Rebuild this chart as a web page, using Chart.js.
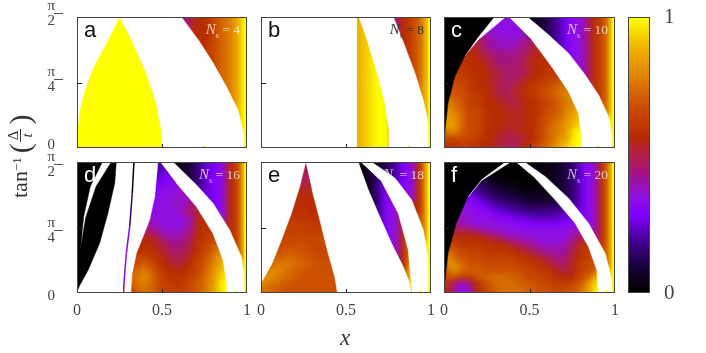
<!DOCTYPE html>
<html>
<head>
<meta charset="utf-8">
<script src="https://cdn.jsdelivr.net/npm/chart.js@4"></script>
<style>
html, body { margin: 0; padding: 0; background: #fff; overflow: hidden; }
#page { position: relative; width: 706px; height: 353px; }
canvas { position: absolute; left: 0; top: 0; }
.txt { position: absolute; white-space: nowrap; }
.letter { font: 22px "Liberation Sans", sans-serif; line-height: 22px; }
.ns { font: 13.5px "Liberation Serif", serif; line-height: 14px; text-align: right; }
.ns i { font-size: 15px; }
.ns sub { font-size: 8px; line-height: 0; }
#xTitle { left: 340px; top: 325px; font: italic 23px "Liberation Serif", serif; color: #333; }
#yTitle { left: 5px; top: 198px; height: 30px; display: flex; align-items: center; transform-origin: 0 0;
  transform: rotate(-90deg); font: 22px "Liberation Serif", serif; color: #333; }
#yTitle sup { font-size: 13px; line-height: 0; position: relative; top: -3px; }
#yTitle .paren { font-size: 30px; font-weight: 200; margin: 0 1px 0 4px; }
#yTitle .frac { display: inline-flex; flex-direction: column; align-items: center; font-size: 15px; line-height: 13px; }
#yTitle .frac b { font-weight: normal; border-bottom: 1px solid #333; padding: 0 2px; }
#yTitle .frac em { line-height: 13px; }
</style>
</head>
<body>
<div id="page"></div>
<script>
// cell levels, top row first: 0 (black) .. z (yellow), '.' = hidden under a white or black region
const gridA = [
"zzzzzzzzzzzzzzzzzz...ehjkklnpqrtvz",
"zzzzzzzzzzzzzzzzzz...fhjkklnpqrtvz",
"zzzzzzzzzzzzzzzzzz...hjkkklnpqrtvz",
"zzzzzzzzzzzzzzzzzz...hjkkklnpqrtvz",
"zzzzzzzzzzzzzzzzzz...hjkklmnpqrtvz",
"zzzzzzzzzzzzzzzzzz...hjkklmnpqrtvz",
"zzzzzzzzzzzzzzzzzz...hjkklmnpqrtvz",
"zzzzzzzzzzzzzzzzzz...hjkklmnpqrtvz",
"zzzzzzzzzzzzzzzzzz...hjkklmnpqrtvz",
"zzzzzzzzzzzzzzzzzz...hjkklmnpqrtvz",
"zzzzzzzzzzzzzzzzzz...hjkklmnpqrtvz",
"zzzzzzzzzzzzzzzzzz...hjkklmnpqrtvz",
"zzzzzzzzzzzzzzzzzz...hjkklmnpqrtvz",
"zzzzzzzzzzzzzzzzzz...hjkklmnpqruwz",
"zzzzzzzzzzzzzzzzzz...hjkklmnpqruwz",
"zzzzzzzzzzzzzzzzzz...hjkklmnpqruwz",
"zzzzzzzzzzzzzzzzzz...hjkklmnpqruwz",
"zzzzzzzzzzzzzzzzzz...hjkklmnpqruwz",
"zzzzzzzzzzzzzzzzzz...hjkklmnpqruwz",
"zzzzzzzzzzzzzzzzzz...hjkklmnpqruwz"
];
const gridB = [
"...................vwxyzzzehklnpsx",
"...................vwxyzzzehklnpsx",
"...................vwxyzzzehklnpsx",
"...................vwxyzzzehklnpsx",
"...................vwxyzzzehklnpsx",
"...................vwxyzzzehklnpsx",
"...................vwxyzzzehklnpsx",
"...................vwxyzzzehklnpsx",
"...................vwxyzzzehklnpsx",
"...................vwxyzzzehklnpsx",
"...................vwxyzzzehklnptx",
"...................vwxyzzzehklnptx",
"...................vwxyzzzehklnptx",
"...................vwxyzzzehklnptx",
"...................vwxyzzzehklnptx",
"...................vwxyzzzehklnptx",
"...................vwxyzzzehklnptx",
"...................vwxyzzzehklnptx",
"...................vwxyzzzehklnptx",
"...................vwxyzzzehklnptx"
];
const gridC = [
"...........ccc..01234578abcdfjlnqy",
".........cccccc..1234578abcdfjlnqy",
".......edddccccd..234578abcdfjlnqy",
"......hgfedddddefh..4578abcdfjlnqy",
".....jihfeedddefghj...78abcdfjlnqy",
"...kkkjihgfffffghijk....abcdfjlnqy",
"..kkkkkjihgfffggijkkk....bcdfjlnqy",
"..lllkkkjhhgggghijkkll....cdfjlnqy",
"..mmllkkkjihgggghjkkllm....dfjlnqy",
".nnmmlkkkiihgghikkklmmno....fjlnqy",
"oonnmllkkjihghijklmmnopq.....jlnqy",
"qpoonmllkjihhijkllmnopqrs.....lnqy",
"rqponmmlkkjiihijkllmnopqrs.....nqy",
"srqpnmmlkkkjjiijkklmnopqrsu.....qy",
"tsrqonnmlkkkjjjjkklmoopqstv.....qy",
"ttsqonnmlkkkjjjjkklnopqrtuw......y",
"tusqonnmlkkkjjjjkklnoqrstvx......y",
"qsrponnmkkjjiijjkkmnpqrsuxz......y",
"nmnnnmmlkkjiihhijklnpqstuxz......y",
"lllmmllkkjiihhhjklnoqrtvwyz......y"
];
const gridD = [
"...............77...1235689abdjlox",
"...............889...235689abdjlox",
"...............99aa...35689abdjlox",
"...............aabbcc..5689abdjlox",
"...............bbcccdd...89abdjlox",
"...............ccccddde...9abdjlox",
"...............ccccdddfh...abdjlox",
"..............dcccccdeghj...bdjlox",
"..............ddcccccdegjk...djlox",
".............feddccccdehkkl...jlox",
".............hgfeddddefikllm..jlox",
".............jjihfeeefgjklmn...lox",
"............kkkjihgffghjlmnop..lox",
"............kllkjihgghiklnoqr...ox",
"...........mnnmlkjihhijlmoprtu..ox",
"...........noponlkjiijkmnoqsuv...x",
"...........pqrqomlkkkklmnprtvx...x",
"...........qrsrpnmllllmnoqrtwy...x",
"...........prrqpnmmllmnopqsuxz...x",
"...........oqqqpnnmmmmnopqsuxz...x"
];
const gridE = [
"hhhhhhhhhhhhhhhh...01.123568abdkpy",
"hhhhhhhhhhhhhhhh...0124.3568abdkpy",
"iiiiiiiihhiiiiii...01246..68abdkpy",
"jjjjjjjjiiijjjjj...012469...abdkpy",
"kkkkkkkkjjkkkkkk...012469b...bdkpy",
"kkkkkkkkkkkkkkkk...012469bc...dkpy",
"kkkkkkkkkkkkkkkk...012469bce...kpy",
"lllllllllkkkkkkk...012469bce...kpy",
"llllllllllllllll...012469bcek...py",
"mmmmmmmmmmllllll...012469bcek...py",
"mmmmmmmmmmmmmmmm...012469bcek...py",
"nnnnnnnnnnnnnnmm...012469bcekp..py",
"nnnnnnnoonnnnnnn...012469bcekp...y",
"oooooppooonnnnnn...012469bcekp...y",
"oopppqqppoonnnnn...012469bcekpz..y",
"opqrrrqqppoooonn...012469bcekpz..y",
"qrssrqqppooooooo...012469bcektz..y",
"stsrqqppoooooooo...012469bcektz..y",
"srqqppoooooooooo...012469bcektz..y",
"qqppoooooooooooo...012469bcektz..y"
];
const gridF = [
"000000000000000..00111234579bcflpx",
"0000000000000000..0111234579bcflpx",
".......22110000000..11234579bcflpx",
"......65432211100000..234579bcflpx",
"....98765443322111111..34579bcflpx",
"...baa9876554433222223...579bcflpx",
"...ccbba9877665544444455..79bcflpx",
"..ddcccbba998877666666778..9bcflpx",
"..eddcccccbbaa99988888899a..bcflpx",
".gfeddcccccccbbbaaaaaaaabbc..cflpx",
"kihiihgfeeddcccccccccccccde...flpx",
"mlkkkkkkjihgfeedddccccccdegh..flpx",
"onmllllllkkkjihgfeedddddegikl..lpx",
"qponnmmmlllllkkjihgfeeeefhjlm...px",
"srpoonnnmmmmmmllkkjihgffgiklmn..px",
"rtrqpooonnnnnnnmmllkjihghjlmno..px",
"prsqppppooooooonnmmllkjiijlmnor..x",
"nonmmmoppqqqqpponnnmmlkkjkmnprw..x",
"lifdehkmopqqqqqppoonnmmmmnopsvy..x",
"khdccejlnopqqqqqppooonnnooprtwz..x"
];

// region outlines, as [x, y] with y in units of pi/2
const whiteA = [
  [[0,1],[.25,1],[.173,.8],[.094,.61],[.045,.44],[.016,.29],[0,.11]],
  [[.25,1],[.614,1],[.722,.81],[.8,.65],[.878,.47],[.947,.29],[.986,.08],[1,0],[.506,0],[.496,.135],[.467,.34],[.408,.57],[.33,.8]]
];
const whiteB = [
  [[0,0],[0,1],[.562,1],[.562,0]],
  [[.575,1],[.778,1],[.837,.81],[.906,.57],[.955,.365],[.984,.19],[.994,0],[.754,0],[.754,.135],[.729,.34],[.69,.545],[.63,.8]]
];
const whiteC = [
  [[.293,1],[.36,1],[.2,.826],[.121,.703],[.2,.85]],
  [[.38,1],[.489,1],[.611,.864],[.728,.724],[.826,.558],[.904,.404],[.963,.238],[.988,.059],[.992,0],[.802,0],[.802,.11],[.787,.263],[.728,.43],[.63,.621],[.513,.826]]
];
const blackC = [
  [[0,1],[.293,1],[.2,.85],[.121,.703],[.063,.545],[.023,.34],[.004,.11],[0,.05]]
];
const whiteD = [
  [[0,0],[0,1],[.476,1],[.457,.737],[.427,.558],[.388,.43],[.349,.302],[.324,.148],[.316,0]],
  [[.49,1],[.565,1],[.702,.826],[.8,.685],[.898,.481],[.967,.276],[.992,.07],[.998,0],[.882,0],[.882,.072],[.859,.251],[.8,.455],[.702,.66],[.584,.839]]
];
const blackD = [
  [[0,1],[.149,1],[.078,.813],[.039,.583],[.02,.332],[.051,.575],[.112,.813],[.202,1],[.231,1],[.222,.84],[.182,.61],[.133,.38],[.065,.174],[.016,.059],[0,.01]]
];
const lineD = [[.335,1],[.325,.76],[.31,.506],[.29,.3],[.276,.07],[.275,0]];
const lineDLevels = [.02,.15,.3,.36,.5,.55];
const whiteE = [
  [[0,.072],[0,1],[.263,1],[.228,.813],[.179,.609],[.12,.404],[.061,.212]],
  [[.263,1],[.572,1],[.631,.788],[.69,.609],[.768,.379],[.837,.2],[.876,.072],[.882,0],[.45,0],[.434,.123],[.395,.302],[.346,.558],[.3,.788]],
  [[.587,1],[.65,1],[.788,.877],[.886,.711],[.955,.481],[.984,.251],[.996,0],[.89,0],[.866,.33],[.807,.609],[.709,.852]]
];
const whiteF = [
  [[.355,1],[.39,1],[.219,.858],[.141,.733],[.219,.868]],
  [[.42,1],[.47,1],[.591,.89],[.728,.724],[.845,.532],[.943,.302],[.982,.097],[.986,0],[.904,0],[.894,.174],[.845,.353],[.767,.532],[.65,.711],[.532,.877]]
];
const blackF = [
  [[0,1],[.355,1],[.219,.868],[.141,.74],[.072,.535],[.023,.302],[.004,.072],[0,.03]]
];

const panelLetters = ['a','b','c','d','e','f'];
const systemSizes = [4,8,10,16,18,20];
const yellowMarks = [.75,.87,.9,.933,.94,.947];
const xTickLabels = ['0','0.5','1'];
const yTickLabels = ['0',['π','4'],['π','2']];
const barTickLabels = ['0','1'];

const paletteStops = [[0,'#000000'],[.1,'#1e0040'],[.2,'#4a00a0'],[.28,'#7f00ff'],[.35,'#9010e0'],[.44,'#a5147a'],[.5,'#b0204a'],[.57,'#b82c00'],[.7,'#cf5500'],[.8,'#e08a00'],[.9,'#f0b800'],[1,'#ffff00']];

const AXIS_W = 40, AXIS_H = 30;

function hexToRgb(h) {
    return [1,3,5].map(i => parseInt(h.substr(i,2),16));
}

function paletteColor(v) {
    for (let i = 1; i < paletteStops.length; i++) {
        if (v <= paletteStops[i][0]) {
            const a = paletteStops[i-1], b = paletteStops[i];
            const t = (v - a[0]) / (b[0] - a[0]);
            const ca = hexToRgb(a[1]), cb = hexToRgb(b[1]);
            const c = ca.map((n,k) => Math.round(n + (cb[k]-n)*t));
            return `rgb(${c[0]},${c[1]},${c[2]})`;
        }
    }
    return paletteStops[paletteStops.length-1][1];
}

// a hidden cell takes its nearest neighbour in the row, it only sits under a mask
function rowColors(row) {
    const cells = row.split('');
    return cells.map((c, i) => {
        let d = 0;
        while (c === '.') {
            d++;
            if (i-d >= 0 && cells[i-d] !== '.') c = cells[i-d];
            else if (i+d < cells.length && cells[i+d] !== '.') c = cells[i+d];
        }
        return paletteColor(parseInt(c,36)/35);
    });
}

// one extra cell on every side keeps the soft edge of the cells inside the frame
function cellDatasets(grid) {
    const rows = grid.length;
    const sets = [];
    for (let r = -1; r <= rows; r++) {
        const colors = rowColors(grid[Math.min(rows-1, Math.max(0, r))]);
        const low = (rows-1-r)/rows, high = (rows-r)/rows;
        const filled = [colors[0]].concat(colors, [colors[colors.length-1]]);
        sets.push({
            type: 'bar', grouped: false, barPercentage: 1, categoryPercentage: 1, borderWidth: 0,
            data: filled.map(() => [low, high]),
            backgroundColor: filled
        });
    }
    return sets;
}

function regionDataset(points, color, order) {
    return {
        type: 'line', order: order,
        data: points.map(p => ({x: p[0], y: p[1]})),
        fill: 'shape', backgroundColor: color, borderColor: color, borderWidth: 0.5,
        pointRadius: 0, tension: 0
    };
}

// frame, inward tick marks and the bars of the fractions
const framePlugin = {
    id: 'frame',
    afterDraw(chart) {
        const {ctx, chartArea: a, scales} = chart;
        const o = chart.options.plugins.frame;
        if (!o.show) return;
        ctx.save();
        ctx.strokeStyle = '#444';
        ctx.lineWidth = 1;
        ctx.strokeRect(a.left+.5, a.top+.5, a.right-a.left-1, a.bottom-a.top-1);
        if (o.marks) {
            const mx = Math.round(scales.x.getPixelForValue(.5))+.5;
            const my = Math.round(scales.y.getPixelForValue(.5))+.5;
            ctx.strokeStyle = '#222';
            ctx.beginPath();
            ctx.moveTo(mx, a.bottom); ctx.lineTo(mx, a.bottom-4);
            ctx.moveTo(a.left, my); ctx.lineTo(a.left+5, my);
            ctx.stroke();
        }
        if (o.fractions) {
            ctx.strokeStyle = '#555';
            [.5, 1].forEach(v => {
                const y = Math.round(scales.yl.getPixelForValue(v))-.5;
                ctx.beginPath();
                ctx.moveTo(a.left-23, y); ctx.lineTo(a.left-14, y);
                ctx.stroke();
            });
        }
        ctx.restore();
    }
};

function makeChart(type, datasets, labels, scales, frame, pad) {
    const c = document.createElement('canvas');
    c.width = 706; c.height = 353;
    document.getElementById('page').appendChild(c);
    new Chart(c.getContext('2d'), {
        type: type,
        data: {labels: labels, datasets: datasets},
        plugins: [framePlugin],
        options: {
            responsive: false, animation: false, events: [],
            layout: {padding: pad},
            plugins: {legend: {display: false}, tooltip: {enabled: false}, title: {display: false}, frame: frame},
            scales: scales
        }
    });
    return c;
}

// fixed axis boxes, so the plot area sits exactly where the padding puts it
function fixWidth(scale) {
    scale.width = AXIS_W;
    scale.paddingTop = 0; scale.paddingBottom = 0; scale.paddingLeft = 0; scale.paddingRight = 0;
}
function fixHeight(scale) {
    scale.height = AXIS_H;
    scale.paddingTop = 0; scale.paddingBottom = 0; scale.paddingLeft = 0; scale.paddingRight = 0;
}

function overlayScales(showX, showY, shift) {
    return {
        x: {
            type: 'linear', position: 'bottom', min: 0, max: 1, offset: false, afterFit: fixHeight,
            grid: {display: false}, border: {display: false},
            ticks: {
                display: showX, stepSize: .5, maxRotation: 0, autoSkip: false, padding: 0,
                color: '#444', font: {family: 'Liberation Serif', size: 16},
                callback: (v) => xTickLabels[Math.round(v*2)]
            }
        },
        y: {type: 'linear', display: false, min: 0, max: 1},
        // same range, moved by a few pixels: the labels do not sit level with the ticks
        yl: {
            type: 'linear', position: 'left', min: shift, max: 1+shift, afterFit: fixWidth,
            afterBuildTicks: (scale) => { scale.ticks = [{value: 0}, {value: .5}, {value: 1}]; },
            grid: {display: false}, border: {display: false},
            ticks: {
                display: showY, autoSkip: false, crossAlign: 'center', padding: 14,
                color: '#444', font: {family: 'Liberation Serif', size: 15, lineHeight: 1},
                callback: (v) => yTickLabels[Math.round(v*2)]
            }
        }
    };
}

const panelBoxes = [[77,17,247,148],[261,17,431,148],[444,17,615,148],[77,162,247,293],[261,162,431,293],[444,162,615,293]];
const panelGrids = [gridA,gridB,gridC,gridD,gridE,gridF];
const panelWhite = [whiteA,whiteB,whiteC,whiteD,whiteE,whiteF];
const panelBlack = [[],[],blackC,blackD,[],blackF];
const letterColors = ['#111','#111','#fff','#fff','#111','#fff'];
const sizeColors = ['rgba(255,255,255,.7)','#333','rgba(255,255,255,.7)','rgba(255,255,255,.75)','rgba(255,255,255,.75)','rgba(255,255,255,.7)'];
const colCount = gridA[0].length, rowCount = gridA.length;
const columns = [];
for (let i = 0; i < colCount+2; i++) columns.push(i);

panelGrids.forEach((grid, n) => {
    const box = panelBoxes[n];
    const cellW = (box[2]-box[0])/colCount, cellH = (box[3]-box[1])/rowCount;

    const heat = makeChart('bar', cellDatasets(grid), columns, {
        x: {type: 'category', display: false, offset: true},
        y: {type: 'linear', display: false, min: -1/rowCount, max: 1+1/rowCount}
    }, {show: false}, {left: box[0]-cellW, top: box[1]-cellH, right: 706-box[2]-cellW, bottom: 353-box[3]-cellH});
    heat.style.filter = 'blur(2.6px)';
    heat.style.clipPath = `inset(${box[1]}px ${706-box[2]}px ${353-box[3]}px ${box[0]}px)`;

    const marks = [];
    panelWhite[n].forEach(p => marks.push(regionDataset(p, '#ffffff', 3)));
    panelBlack[n].forEach(p => marks.push(regionDataset(p, '#000000', 2)));
    if (n === 3) {
        marks.push({
            type: 'line', order: 1,
            data: lineD.map(p => ({x: p[0], y: p[1]})),
            borderWidth: 1.5, pointRadius: 0, fill: false, borderColor: '#000',
            segment: {borderColor: ctx => paletteColor(lineDLevels[ctx.p0DataIndex])}
        });
    }
    // the two ends differ a hair in x: Chart.js drops a sorted line whose points share one x
    marks.push({
        type: 'line', order: 1,
        data: [{x: yellowMarks[n], y: 0}, {x: yellowMarks[n]+.0005, y: .02}],
        borderColor: '#ffff00', borderWidth: 2, pointRadius: 0, fill: false
    });
    marks.push({
        type: 'line', order: 1,
        data: [{x: .991, y: 0}, {x: .9915, y: 1}],
        borderColor: '#ffff00', borderWidth: 2.5, pointRadius: 0, fill: false
    });
    const showY = n === 0 || n === 3;
    const shift = (n < 3 ? -3 : 3)/(box[3]-box[1]);
    makeChart('line', marks, [], overlayScales(n >= 3, showY, shift), {show: true, marks: true, fractions: showY},
        {left: box[0]-AXIS_W, top: box[1], right: 706-box[2], bottom: 353-box[3]-AXIS_H});

    const letter = document.createElement('div');
    letter.className = 'txt letter';
    letter.textContent = panelLetters[n];
    letter.style.cssText = `left:${box[0]+7}px;top:${box[1]+2}px;color:${letterColors[n]}`;
    document.getElementById('page').appendChild(letter);

    const size = document.createElement('div');
    size.className = 'txt ns';
    size.innerHTML = `<i>N</i><sub>s</sub> = ${systemSizes[n]}`;
    size.style.cssText = `right:${706-box[2]+7}px;top:${box[1]+5}px;color:${sizeColors[n]}`;
    document.getElementById('page').appendChild(size);
});

// colour bar
const barRows = [];
for (let i = 137; i >= 0; i--) barRows.push(i/137);
const barDatasets = barRows.map((v, r) => ({
    type: 'bar', xAxisID: 'xc', yAxisID: 'y', grouped: false, barPercentage: 1, categoryPercentage: 1, borderWidth: 0,
    data: [[(137-r)/138, (138-r)/138]], backgroundColor: paletteColor(v)
}));
makeChart('bar', barDatasets, ['bar'], {
    xc: {type: 'category', display: false, offset: true},
    y: {
        type: 'linear', position: 'right', min: 0, max: 1, afterFit: fixWidth,
        grid: {display: false}, border: {display: false},
        ticks: {
            stepSize: 1, padding: 6, color: '#444', font: {family: 'Liberation Serif', size: 21},
            callback: (v) => barTickLabels[v]
        }
    }
}, {show: true, marks: false, fractions: false}, {left: 628, top: 17, right: 706-650-AXIS_W, bottom: 353-293});

const xTitle = document.createElement('div');
xTitle.className = 'txt'; xTitle.id = 'xTitle'; xTitle.textContent = 'x';
document.getElementById('page').appendChild(xTitle);

const yTitle = document.createElement('div');
yTitle.className = 'txt'; yTitle.id = 'yTitle';
yTitle.innerHTML = 'tan<sup>−1</sup><span class="paren">(</span><span class="frac"><b>Δ</b><em>t</em></span><span class="paren">)</span>';
document.getElementById('page').appendChild(yTitle);
</script>
</body>
</html>
